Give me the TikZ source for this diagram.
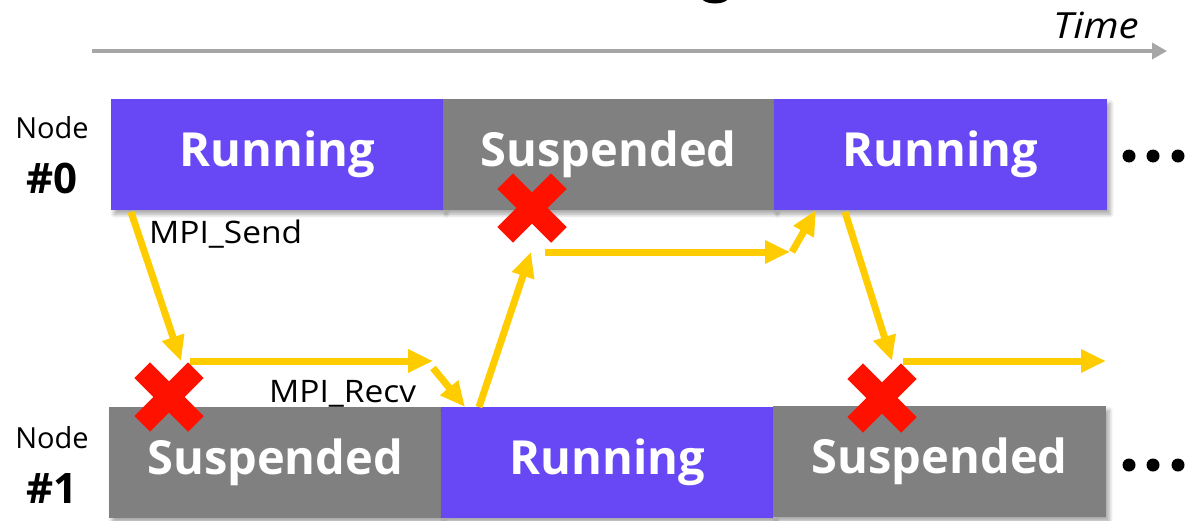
\documentclass[tikz,border=0pt]{standalone}
\usepackage{fontspec}
\setmainfont{Open Sans}
\usetikzlibrary{arrows.meta,shadows.blur}

\definecolor{runc}{RGB}{104,71,245}
\definecolor{susc}{RGB}{128,128,128}
\definecolor{msgc}{RGB}{255,204,0}
\definecolor{crossc}{RGB}{255,17,0}
\definecolor{timec}{RGB}{166,166,166}

\tikzset{
  phase/.style={minimum width=332pt, minimum height=111pt, inner sep=0pt,
    anchor=north west, text=white,
    font=\bfseries\fontsize{47}{50}\selectfont,
    blur shadow={shadow xshift=3pt, shadow yshift=-4pt,
      shadow blur radius=4pt, shadow blur steps=6, shadow opacity=35}},
  runbox/.style={phase, fill=runc},
  susbox/.style={phase, fill=susc},
  msg/.style={draw=msgc, line width=7pt,
    -{Triangle[length=25pt,width=22pt]}},
  nodename/.style={anchor=base, inner sep=0pt, font=\fontsize{29}{32}\selectfont},
  nodenum/.style={anchor=base, inner sep=0pt, font=\bfseries\fontsize{42}{46}\selectfont},
  call/.style={anchor=base west, inner sep=0pt, transform shape, xscale=1.08,
    font=\fontsize{31}{34}\selectfont},
  dot/.style={circle, fill=black, inner sep=0pt, minimum size=13pt},
  crossmark/.pic={
    \fill[crossc, rotate=45] (-38,-11) rectangle (38,11);
    \fill[crossc, rotate=-45] (-38,-11) rectangle (38,11);
  }
}

\begin{document}
\begin{tikzpicture}[x=1pt, y=-1pt]
\useasboundingbox (0,0) rectangle (1188,520);
\clip (0,0) rectangle (1188,520);

% descender of the heading above
\fill[black] (715,-2) ellipse [x radius=13, y radius=5.5];

% time axis
\coordinate (t0) at (92,51);
\coordinate (t1) at (1167,51);
\draw[timec, line width=3.5pt, -{Triangle[length=15pt,width=16pt]}] (t0) -- (t1);
\node[anchor=base west, inner sep=0pt, transform shape, xscale=1.12,
  font=\itshape\fontsize{36}{40}\selectfont]
  (time) at (1053,38) {Time};

% node 0 timeline
\node[runbox] (a1) at (111,99) {Running};
\node[susbox, minimum width=331pt] (a2) at (443,99) {Suspended};
\node[runbox, minimum width=333pt] (a3) at (774,99) {Running};

% node 1 timeline
\node[susbox] (b1) at (109,407) {Suspended};
\node[runbox] (b2) at (441,407) {Running};
\node[susbox, minimum width=333pt] (b3) at (773,406) {Suspended};

% labels
\node[nodename] (n0) at (52,138) {Node};
\node[nodenum] (n0num) at (52,193) {\#0};
\node[nodename] (n1) at (52,448) {Node};
\node[nodenum] (n1num) at (52,503) {\#1};
\node[call] (send) at (149,243) {MPI\_Send};
\node[call] (recv) at (269,402) {MPI\_Recv};

% continuation dots
\node[dot] (d1) at (1129,156) {};
\node[dot] (d2) at (1153,156) {};
\node[dot] (d3) at (1178,156) {};
\node[dot] (e1) at (1129,465) {};
\node[dot] (e2) at (1153,465) {};
\node[dot] (e3) at (1178,465) {};

% message path
\coordinate (p0) at (131,212);
\coordinate (p1) at (181,361);
\coordinate (p2) at (190,361);
\coordinate (p3) at (433,361);
\coordinate (p4) at (433,368);
\coordinate (p5) at (465,407);
\coordinate (p6) at (479,407);
\coordinate (p7) at (531,252);
\coordinate (p8) at (545,252);
\coordinate (p9) at (790,252);
\coordinate (p10) at (792,252);
\coordinate (p11) at (816,210);
\coordinate (p12) at (845,212);
\coordinate (p13) at (892,361);
\coordinate (p14) at (903,361);
\coordinate (p15) at (1106,361);

\draw[msg] (p0) -- (p1);
\draw[msg] (p2) -- (p3);
\draw[msg] (p4) -- (p5);
\draw[msg] (p6) -- (p7);
\draw[msg] (p8) -- (p9);
\draw[msg] (p10) -- (p11);
\draw[msg] (p12) -- (p13);
\draw[msg] (p14) -- (p15);

% blocking points
\pic (x1) at (169,397) {crossmark};
\pic (x2) at (532,208) {crossmark};
\pic (x3) at (882,398) {crossmark};
\end{tikzpicture}
\end{document}
